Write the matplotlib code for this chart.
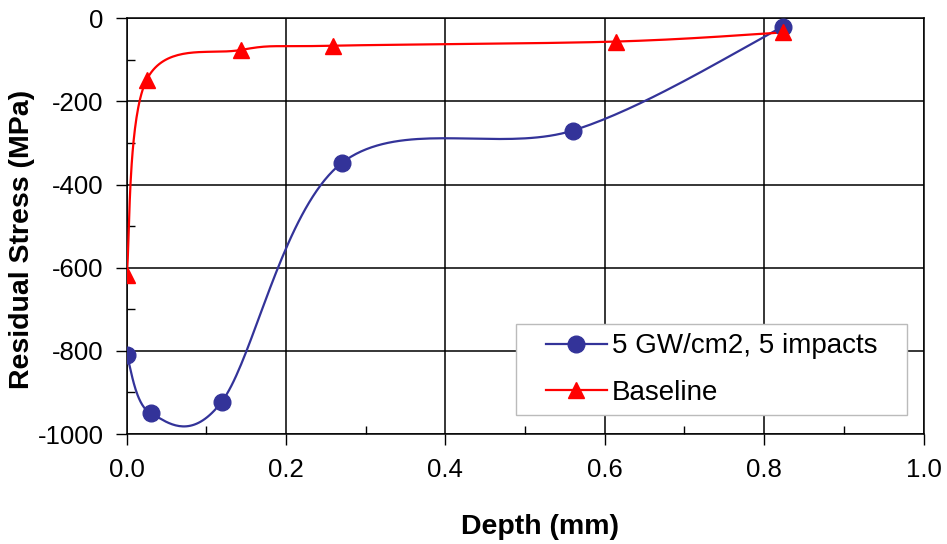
import numpy as np
import matplotlib
matplotlib.use("Agg")
import matplotlib.pyplot as plt
from matplotlib.ticker import MultipleLocator
from matplotlib.patches import Rectangle

plt.rcParams['font.family'] = ['Liberation Sans', 'DejaVu Sans']
plt.rcParams['axes.unicode_minus'] = False

# data
depth_lsp = [0.0, 0.030, 0.119, 0.270, 0.560, 0.824]
stress_lsp = [-810, -950, -923, -348, -270, -20]
depth_base = [0.0, 0.025, 0.144, 0.259, 0.614, 0.824]
stress_base = [-618, -148, -76, -66, -56, -34]

label_lsp = "5 GW/cm2, 5 impacts"
label_base = "Baseline"
xticks = [0.0, 0.2, 0.4, 0.6, 0.8, 1.0]
xtick_labels = ['0.0', '0.2', '0.4', '0.6', '0.8', '1.0']


def smooth(xs, ys, n=40):
    # Catmull-Rom style cubic Bezier like Excel's "smoothed line"
    p = np.column_stack([xs, ys]).astype(float)
    p = np.vstack([p[0], p, p[-1]])
    out = []
    t = np.linspace(0, 1, n)[:, None]
    for i in range(1, len(p) - 2):
        p0, p1, p2, p3 = p[i - 1], p[i], p[i + 1], p[i + 2]
        c1 = p1 + (p2 - p0) / 6.0
        c2 = p2 - (p3 - p1) / 6.0
        seg = ((1 - t) ** 3) * p1 + 3 * ((1 - t) ** 2) * t * c1 + 3 * (1 - t) * t ** 2 * c2 + t ** 3 * p2
        out.append(seg)
    seg = np.vstack(out)
    return seg[:, 0], seg[:, 1]


fig = plt.figure(figsize=(9.47, 5.44), dpi=100)
ax = fig.add_axes([0.1338, 0.2022, 0.8414, 0.7642])

blue = '#333399'
red = '#FF0000'

sx, sy = smooth(depth_lsp, stress_lsp)
ax.plot(sx, sy, color=blue, lw=1.6, zorder=3)
ax.plot(depth_lsp, stress_lsp, ls='none', marker='o', ms=12, color=blue, zorder=4)
ax.plot([], [], color=blue, lw=1.6, marker='o', ms=12, label=label_lsp)

sx, sy = smooth(depth_base, stress_base)
ax.plot(sx, sy, color=red, lw=1.6, zorder=3)
ax.plot(depth_base, stress_base, ls='none', marker='^', ms=12, color=red, zorder=4)
ax.plot([], [], color=red, lw=1.6, marker='^', ms=12, label=label_base)

ax.set_xlim(0, 1.0)
ax.set_ylim(-1000, 0)
ax.set_xticks(xticks)
ax.set_xticklabels(xtick_labels)
ax.xaxis.set_minor_locator(MultipleLocator(0.1))
ax.yaxis.set_major_locator(MultipleLocator(200))
ax.yaxis.set_minor_locator(MultipleLocator(100))

ax.grid(True, which='major', color='black', lw=1.1)
ax.tick_params(which='major', direction='out', length=8, width=1, labelsize=18.5, colors='black')
ax.tick_params(axis='x', which='major', pad=9)
ax.tick_params(axis='y', which='major', pad=8.5)
ax.tick_params(which='minor', direction='in', length=6, width=1)
for s in ax.spines.values():
    s.set_linewidth(1.1)

ax.set_xlabel('Depth (mm)', fontsize=20.5, fontweight='bold', va='center')
ax.xaxis.set_label_coords(0.519, -0.2237)
ax.set_ylabel('Residual Stress (MPa)', fontsize=20.5, fontweight='bold', va='center')
ax.yaxis.set_label_coords(-0.131, 0.467)

leg = ax.legend(loc='lower right', bbox_to_anchor=(0.942, 0.068), fontsize=20, frameon=False,
                borderpad=0, borderaxespad=0, handlelength=2.2, handletextpad=0.18,
                labelspacing=0.73)

# legend frame: wider side padding than matplotlib allows
fig.canvas.draw()
bb = leg.get_window_extent().transformed(ax.transAxes.inverted())
padx = 30 / ax.bbox.width
pady = 9 / ax.bbox.height
ax.add_patch(Rectangle((bb.x0 - padx, bb.y0 - pady), bb.width + 2 * padx, bb.height + 2 * pady,
                       transform=ax.transAxes, facecolor='white', edgecolor='#BBBBBB',
                       lw=1.0, zorder=4.5))
leg.set_zorder(5)

fig.savefig('out.png', dpi=100)
